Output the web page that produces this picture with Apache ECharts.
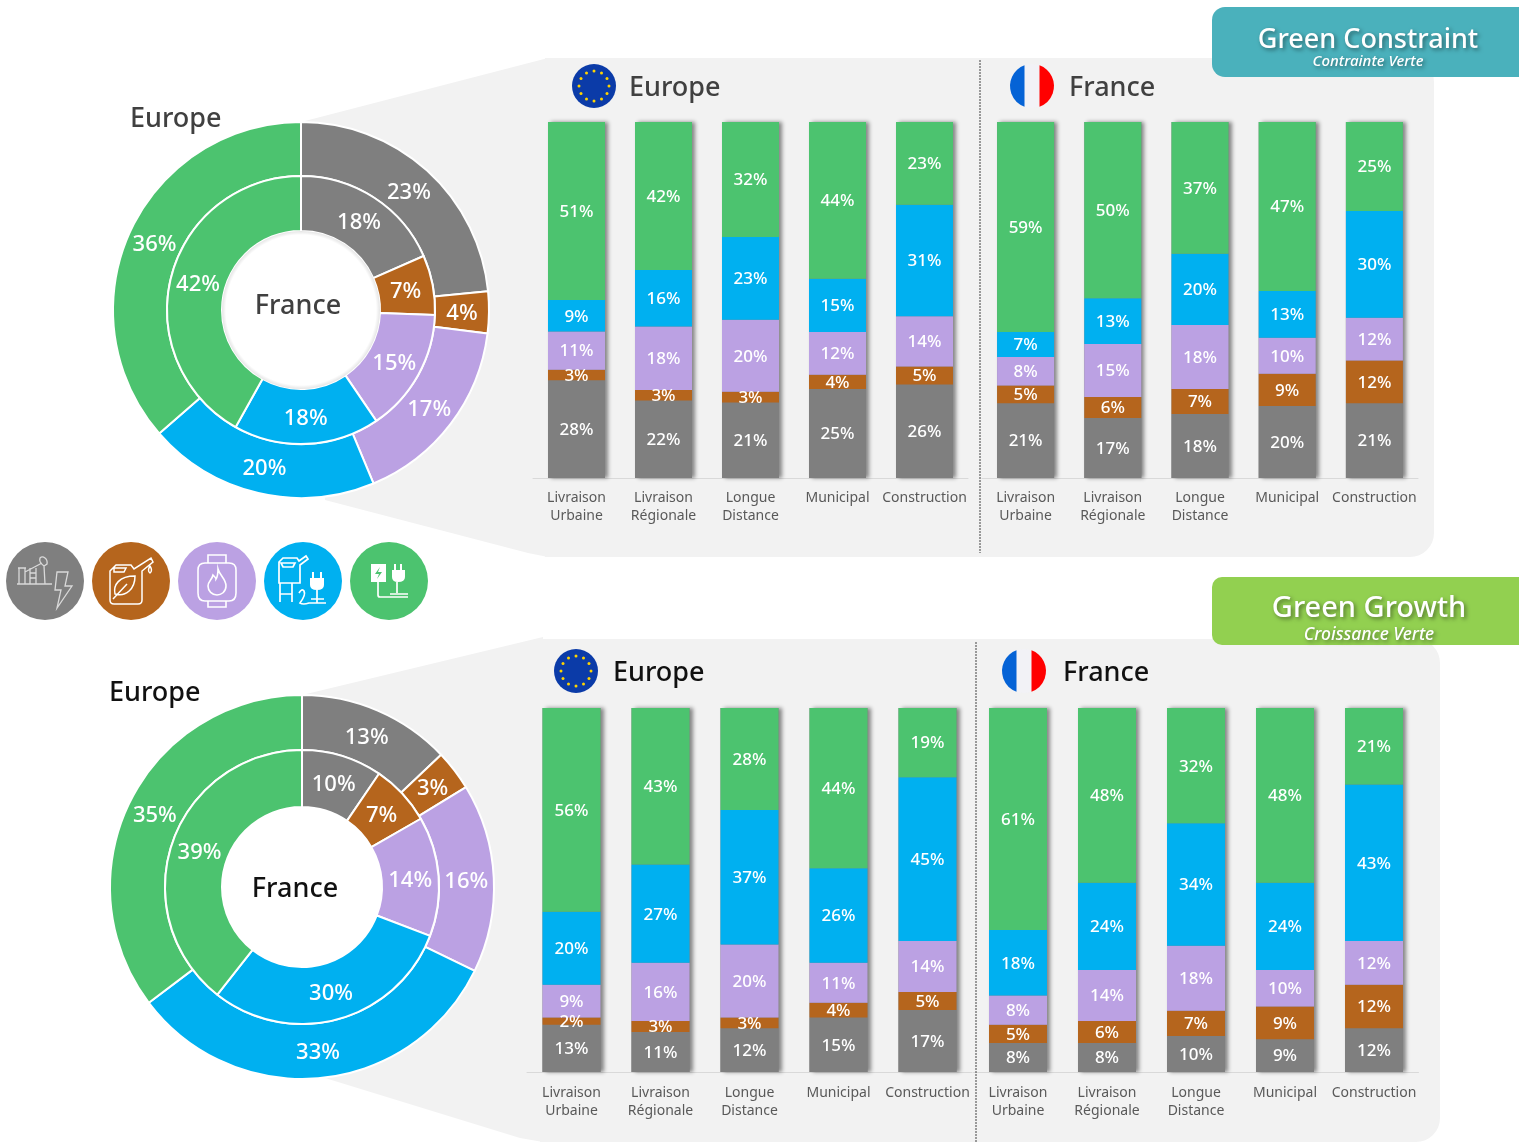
<!DOCTYPE html>
<html>
<head>
<meta charset="utf-8">
<title>Green Constraint / Green Growth</title>
<script src="https://cdn.jsdelivr.net/npm/echarts@6/dist/echarts.min.js"></script>
<style>
  html, body { margin: 0; padding: 0; background: #fff; }
  #chart { width: 1519px; height: 1142px; }
</style>
</head>
<body>
<div id="chart"></div>
<script>
const categories = ['Livraison\nUrbaine', 'Livraison\nRégionale', 'Longue\nDistance', 'Municipal', 'Construction']
const sources = ['Pétrole', 'Biocarburant', 'Gaz', 'Hydrogène', 'Électrique']
const colors = ['#7F7F7F', '#B5651D', '#BBA1E3', '#00B0F0', '#4CC36F']

// donuts, clockwise from 12 o'clock, same order as sources
// the label is the rounded value
const constraintDonutEurope = [23.4, 3.6, 16.7, 19.9, 36.4]
const constraintDonutFrance = [18.4, 7.2, 14.9, 17.6, 41.9]
const growthDonutEurope = [12.9, 3.4, 15.9, 32.5, 35.3]
const growthDonutFrance = [9.5, 7.2, 14.1, 29.8, 39.4]

// stacked bars: one row per source, one column per category
const constraintEurope = [
  [28, 22, 21, 25, 26],
  [3, 3, 3, 4, 5],
  [11, 18, 20, 12, 14],
  [9, 16, 23, 15, 31],
  [51, 42, 32, 44, 23]
]
const constraintFrance = [
  [21, 17, 18, 20, 21],
  [5, 6, 7, 9, 12],
  [8, 15, 18, 10, 12],
  [7, 13, 20, 13, 30],
  [59, 50, 37, 47, 25]
]
const growthEurope = [
  [13, 11, 12, 15, 17],
  [2, 3, 3, 4, 5],
  [9, 16, 20, 11, 14],
  [20, 27, 37, 26, 45],
  [56, 43, 28, 44, 19]
]
const growthFrance = [
  [8, 8, 10, 9, 12],
  [5, 6, 7, 9, 12],
  [8, 14, 18, 10, 12],
  [18, 24, 34, 24, 43],
  [61, 48, 32, 48, 21]
]

const fontFamily = '"Noto Sans", sans-serif'

const barPanels = [
  { rows: constraintEurope, left: 533, top: 122, width: 435, height: 356, barWidth: 57, labelMargin: 11 },
  { rows: constraintFrance, left: 982, top: 122, width: 436, height: 356, barWidth: 57, labelMargin: 11 },
  { rows: growthEurope, left: 527, top: 708, width: 445, height: 364, barWidth: 58, labelMargin: 12 },
  { rows: growthFrance, left: 973.5, top: 708, width: 445, height: 364, barWidth: 58, labelMargin: 12 }
]

const donuts = [
  { data: constraintDonutEurope, center: [301, 310], radius: [134, 188] },
  { data: constraintDonutFrance, center: [301, 310], radius: [79, 134] },
  { data: growthDonutEurope, center: [302, 887], radius: [137, 192] },
  { data: growthDonutFrance, center: [302, 887], radius: [80, 137] }
]

const grid = []
const xAxis = []
const yAxis = []
const series = []

barPanels.forEach((panel, p) => {
  grid.push({ left: panel.left, top: panel.top, width: panel.width, height: panel.height })
  xAxis.push({
    type: 'category',
    gridIndex: p,
    data: categories,
    axisTick: { show: false },
    axisLine: { lineStyle: { color: '#D9D9D9', width: 1 } },
    axisLabel: { interval: 0, color: '#595959', fontSize: 14, lineHeight: 18, margin: panel.labelMargin, fontFamily }
  })
  yAxis.push({ type: 'value', gridIndex: p, min: 0, max: 100, show: false })

  // backing column, carries the side shadow so it does not bleed over the segments
  series.push({
    type: 'bar',
    xAxisIndex: p,
    yAxisIndex: p,
    barWidth: panel.barWidth,
    barGap: '-100%',
    z: 1,
    silent: true,
    data: categories.map(() => 100),
    itemStyle: { color: '#7F7F7F', shadowColor: 'rgba(0,0,0,0.45)', shadowBlur: 4, shadowOffsetX: 3 }
  })

  // the printed percentages are rounded, some columns add up to 99 or 102
  const totals = categories.map((c, i) => panel.rows.reduce((s, row) => s + row[i], 0))

  panel.rows.forEach((row, r) => {
    series.push({
      type: 'bar',
      name: sources[r],
      xAxisIndex: p,
      yAxisIndex: p,
      stack: 'panel' + p,
      barWidth: panel.barWidth,
      barGap: '-100%',
      z: 2,
      data: row.map((v, i) => v / totals[i] * 100),
      itemStyle: { color: colors[r] },
      label: {
        show: true,
        position: 'inside',
        offset: [0, 1],
        color: '#fff',
        fontSize: 17,
        fontWeight: 500,
        fontFamily,
        formatter: param => row[param.dataIndex] + '%'
      },
      silent: true
    })
  })
})

donuts.forEach(donut => {
  const [cx, cy] = donut.center
  series.push({
    type: 'pie',
    center: donut.center,
    radius: donut.radius,
    startAngle: 90,
    clockwise: true,
    avoidLabelOverlap: false,
    silent: true,
    data: donut.data.map((v, i) => ({ name: sources[i], value: v, itemStyle: { color: colors[i] } })),
    itemStyle: { borderColor: '#fff', borderWidth: 2 },
    label: {
      show: true,
      position: 'inside',
      formatter: param => Math.round(param.value) + '%',
      color: '#fff',
      fontSize: 22,
      fontWeight: 500,
      fontFamily
    },
    // the original sits the labels a touch nearer the centre than mid ring
    labelLayout: param => {
      const dx = param.rect.x + param.rect.width / 2 - cx
      const dy = param.rect.y + param.rect.height / 2 - cy
      const dist = Math.sqrt(dx * dx + dy * dy)
      return { dx: -3 * dx / dist, dy: 2 - 3 * dy / dist }
    },
    labelLine: { show: false }
  })
})

const label = (text, x, y, fontSize, fill, extra) => ({
  type: 'text',
  z: 10,
  x,
  y,
  style: Object.assign({ text, fontSize, fill, fontFamily, textAlign: 'left', textVerticalAlign: 'middle' }, extra)
})

// the graphic component has no raw path element, register each outline as a shape
let shapeCount = 0
const pathShape = d => {
  const name = 'outline' + shapeCount++
  echarts.graphic.registerShape(name, echarts.graphic.extendPath(d))
  return name
}

const euFlag = (cx, cy) => {
  const parts = [{ type: 'circle', z: 10, shape: { cx, cy, r: 22 }, style: { fill: '#0B3BA8' } }]
  for (let i = 0; i < 12; i++) {
    const a = i * Math.PI / 6
    parts.push({
      type: 'circle',
      z: 11,
      shape: { cx: cx + 15 * Math.cos(a), cy: cy + 15 * Math.sin(a), r: 1.5 },
      style: { fill: '#FFD400' }
    })
  }
  return parts
}

const frFlag = (cx, cy) => {
  const r = 22
  const d = 7.5
  const h = Math.sqrt(r * r - d * d)
  return [
    { type: 'circle', z: 10, shape: { cx, cy, r }, style: { fill: '#F2F2F6' } },
    { type: pathShape(`M${cx - d} ${cy - h}A${r} ${r} 0 0 0 ${cx - d} ${cy + h}Z`), z: 11, style: { fill: '#0563D6' } },
    { type: pathShape(`M${cx + d} ${cy - h}A${r} ${r} 0 0 1 ${cx + d} ${cy + h}Z`), z: 11, style: { fill: '#FF0000' } }
  ]
}

// white hole of the donut, the grey panel must not show through
const hole = (cx, cy, r) => ({ type: 'circle', z: 1, shape: { cx, cy, r }, style: { fill: '#fff' } })

const holeShade = (cx, cy, r) => ({
  type: 'circle',
  z: 9,
  shape: { cx, cy, r },
  style: {
    fill: {
      type: 'radial', x: 0.5, y: 0.5, r: 0.5,
      colorStops: [
        { offset: 0, color: 'rgba(0,0,0,0)' },
        { offset: 0.95, color: 'rgba(0,0,0,0)' },
        { offset: 1, color: 'rgba(0,0,0,0.1)' }
      ]
    }
  }
})

// legend pictograms, local coordinates around each disc centre
const icons = [
  {
    x: 45,
    stroke: '#D9D9D9',
    lineWidth: 1.3,
    d: 'M-28 3H7M-26 3V-13H-20V3M-27 -13H-19M-15 3V-13M-9 3V-13M-15 -8H-9M-15 -3H-9M-20 -9L-3 -18M-5 -23C-2 -26 3 -22 2 -17L-1 -15C-4 -17 -6 -20 -5 -23ZM-1 -15L0 3M12 -9H23L20 5H27L12 27L16 9H10Z'
  },
  {
    x: 131,
    stroke: '#fff',
    lineWidth: 1.5,
    d: 'M-21 -10L-15 -16H0L3 -12L20 -23L22 -19L11 -10V19Q11 23 7 23H-17Q-21 23 -21 19ZM-17 -13H-5L-7 -9H-17ZM19 -15Q22 -10 19 -8Q16 -10 19 -15ZM4 -5C-12 -5 -18 4 -16 13C-5 16 4 8 4 -5ZM-18 18L-4 3'
  },
  {
    x: 217,
    stroke: '#fff',
    lineWidth: 1.6,
    d: 'M-9 -26H9V-18H-9ZM-12 -18H12Q19 -18 19 -11V12Q19 20 12 20H-12Q-19 20 -19 12V-11Q-19 -18 -12 -18ZM-9 20V26H9V20M1 -12C3 -5 9 -2 9 5C9 11 4 14 0 14C-5 14 -9 10 -9 5C-9 0 -5 -1 -4 -6C-2 -4 -1 -3 -1 -2C1 -5 1 -8 1 -12Z'
  },
  {
    x: 303,
    stroke: '#fff',
    lineWidth: 1.7,
    d: 'M-24 -19L-20 -23H-6L-4 -20L3 -25L5 -22L-3 -16V2H-24ZM-22 -18H-8L-10 -14H-20ZM-23 2V21M-11 2V21M-23 13H-11M-4 12Q-1 7 1 10Q3 14 -3 22Q0 24 6 22H23M14 9V22M8 18H21',
    solid: 'M9 -9H11V-3H17V-9H19V-3H21V4Q21 9 14 9Q7 9 7 4V-3H9Z'
  },
  {
    x: 389,
    stroke: '#fff',
    lineWidth: 1.7,
    d: 'M-11 1V14Q-11 16 -9 16H19M8 1V12M1 13H19',
    solid: 'M-18 -17H-3V1H-18ZM5 -17H7V-11H11V-17H13V-11H16V-4Q16 1 9 1Q3 1 3 -4V-11H5Z',
    cut: 'M-9 -14L-14 -7H-10L-12 -2L-7 -9H-11Z'
  }
]

const iconElements = []
icons.forEach((icon, i) => {
  iconElements.push({ type: 'circle', z: 10, shape: { cx: icon.x, cy: 581, r: 39 }, style: { fill: colors[i] } })
  iconElements.push({
    type: pathShape(icon.d), z: 11, x: icon.x, y: 581,
    style: { fill: 'none', stroke: icon.stroke, lineWidth: icon.lineWidth }
  })
  if (icon.solid) {
    iconElements.push({ type: pathShape(icon.solid), z: 11, x: icon.x, y: 581, style: { fill: icon.stroke } })
  }
  if (icon.cut) {
    iconElements.push({ type: pathShape(icon.cut), z: 12, x: icon.x, y: 581, style: { fill: colors[i] } })
  }
})

const panelFill = '#F2F2F2'
const badgeShadow = { textShadowColor: 'rgba(0,0,0,0.45)', textShadowBlur: 4, textShadowOffsetX: 2, textShadowOffsetY: 2 }

const graphic = [
  // top panel
  { type: 'polygon', z: 0, shape: { points: [[301, 122], [548, 58], [548, 557], [528, 553], [325, 500]] }, style: { fill: panelFill } },
  { type: 'rect', z: 0, shape: { x: 545, y: 58, width: 889, height: 499, r: [0, 24, 24, 0] }, style: { fill: panelFill } },
  // bottom panel
  { type: 'polygon', z: 0, shape: { points: [[302, 695], [543, 637], [543, 1142], [520, 1138], [325, 1078]] }, style: { fill: panelFill } },
  { type: 'rect', z: 0, shape: { x: 540, y: 639, width: 900, height: 503, r: [0, 24, 24, 0] }, style: { fill: panelFill } },
  hole(301, 310, 79),
  hole(302, 887, 80),
  // dotted separators
  { type: 'line', z: 1, shape: { x1: 980, y1: 60, x2: 980, y2: 553 }, style: { stroke: '#404040', lineWidth: 1, lineDash: [2, 1] } },
  { type: 'line', z: 1, shape: { x1: 976, y1: 642, x2: 976, y2: 1142 }, style: { stroke: '#404040', lineWidth: 1, lineDash: [2, 1] } },
  // badges
  { type: 'rect', z: 5, shape: { x: 1212, y: 7, width: 320, height: 70, r: 13 }, style: { fill: '#4AB1BC' } },
  { type: 'rect', z: 5, shape: { x: 1212, y: 577, width: 320, height: 68, r: 10 }, style: { fill: '#92D050' } },
  label('Green Constraint', 1368, 40, 27, '#fff', Object.assign({ textAlign: 'center', fontWeight: 500 }, badgeShadow)),
  label('Contrainte Verte', 1368, 62, 15, '#fff', Object.assign({ textAlign: 'center', fontStyle: 'italic', fontWeight: 500 }, badgeShadow)),
  label('Green Growth', 1369, 609, 29, '#fff', Object.assign({ textAlign: 'center', fontWeight: 500 }, badgeShadow)),
  label('Croissance Verte', 1369, 635, 17.5, '#fff', Object.assign({ textAlign: 'center', fontStyle: 'italic', fontWeight: 500 }, badgeShadow)),
  // panel headings
  ...euFlag(594, 86),
  ...frFlag(1032, 86),
  ...euFlag(576, 671),
  ...frFlag(1024, 671),
  label('Europe', 629, 88, 27, '#404040', { fontWeight: 500 }),
  label('France', 1069, 88, 27, '#404040', { fontWeight: 500 }),
  label('Europe', 613, 673, 27, '#111', { fontWeight: 500 }),
  label('France', 1063, 673, 27, '#111', { fontWeight: 500 }),
  // donut captions
  label('Europe', 130, 119, 27, '#404040', { fontWeight: 500 }),
  label('France', 298, 306, 27, '#404040', { textAlign: 'center', fontWeight: 500 }),
  label('Europe', 109, 693, 27, '#111', { fontWeight: 500 }),
  label('France', 295, 889, 27, '#111', { textAlign: 'center', fontWeight: 500 }),
  holeShade(301, 310, 79),
  ...iconElements
]

const myChart = echarts.init(document.getElementById('chart'), null, { renderer: 'canvas' })
myChart.setOption({
  animation: false,
  textStyle: { fontFamily },
  grid,
  xAxis,
  yAxis,
  series,
  graphic: { elements: graphic }
})
</script>
</body>
</html>
